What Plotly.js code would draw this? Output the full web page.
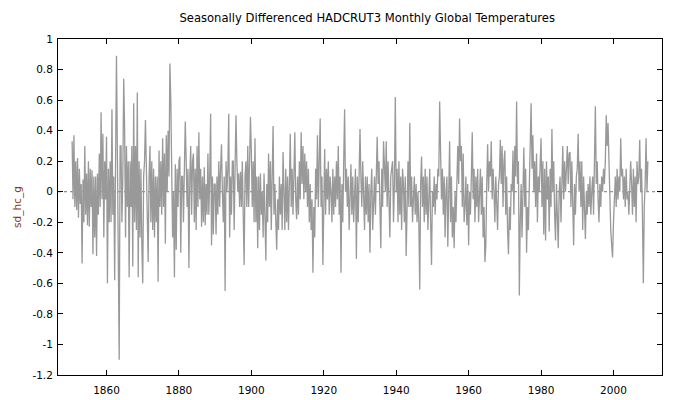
<!DOCTYPE html>
<html>
<head>
<meta charset="utf-8">
<script src="https://cdn.plot.ly/plotly-3.0.1.min.js"></script>
<style>html,body{margin:0;padding:0;background:#fff;}#chart{width:680px;height:400px;}</style>
</head>
<body>
<div id="chart"></div>
<script>
// Series: sd_hc_g, quarterly readings of the monthly series, starting 1850.5
const startYear = 1850.5;
const stepYears = 0.25;
const sd_hc_g = [
  0.33, -0.05,
  0.37, -0.10, 0.20, -0.12,
  0.22, -0.17, 0.15, -0.08,
  0.05, -0.47, 0.08, -0.20,
  0.30, -0.15, 0.12, -0.22,
  0.20, -0.23, 0.15, -0.10,
  0.14, -0.41, 0.10, -0.30,
  0.10, -0.42, 0.12, -0.15,
  0.25, -0.10, 0.52, -0.05,
  0.38, -0.30, 0.20, -0.05,
  0.36, -0.60, 0.15, -0.20,
  0.20, -0.20, 0.54, -0.15,
  0.10, -0.58, 0.20, 0.89,
  0.25, -0.30, -1.10, 0.30,
  0.30, -0.20, 0.10, 0.74,
  0.41, -0.30, 0.30, -0.10,
  0.20, -0.56, 0.20, -0.10,
  0.30, -0.49, 0.58, -0.20,
  0.30, -0.25, 0.65, -0.56,
  0.20, -0.30, 0.15, -0.35,
  -0.60, 0.10, 0.20, 0.47,
  0.20, -0.15, -0.46, 0.10,
  0.30, -0.20, 0.20, -0.25,
  0.15, -0.30, 0.10, -0.20,
  0.10, -0.59, 0.27, -0.10,
  0.20, -0.15, 0.35, -0.10,
  0.25, -0.34, 0.37, 0.00,
  0.40, 0.10, 0.84, 0.60,
  0.20, -0.30, 0.00, -0.56,
  0.18, -0.38, 0.15, -0.10,
  0.20, 0.23, -0.40, 0.10,
  0.10, -0.20, 0.15, 0.46,
  0.20, -0.10, 0.15, -0.50,
  0.10, 0.30, -0.15, 0.20,
  0.25, -0.20, 0.15, -0.25,
  0.30, -0.10, 0.39, -0.05,
  0.15, -0.23, 0.10, -0.20,
  0.16, -0.22, 0.05, -0.15,
  0.25, -0.15, 0.10, 0.51,
  -0.35, 0.10, -0.28, 0.05,
  0.05, -0.28, 0.10, -0.15,
  0.20, -0.10, 0.15, 0.31,
  0.00, -0.20, 0.10, -0.65,
  0.20, 0.00, 0.15, 0.51,
  -0.30, 0.10, -0.15, 0.20,
  0.20, -0.25, 0.15, 0.50,
  0.20, 0.00, 0.12, -0.10,
  0.13, -0.10, 0.20, -0.20,
  -0.48, 0.10, 0.20, -0.10,
  0.30, -0.10, 0.36, 0.49,
  0.25, -0.10, 0.20, -0.20,
  0.35, -0.20, 0.10, -0.37,
  0.10, -0.25, 0.12, -0.15,
  0.00, -0.30, 0.12, -0.20,
  -0.45, 0.05, -0.20, 0.25,
  -0.10, 0.20, -0.25, 0.10,
  0.43, -0.15, 0.05, -0.20,
  -0.38, -0.05, -0.25, 0.10,
  -0.15, 0.05, -0.25, 0.26,
  0.00, -0.25, 0.15, -0.20,
  0.10, -0.25, 0.05, 0.38,
  -0.10, 0.15, -0.15, 0.20,
  0.39, -0.05, -0.18, 0.10,
  -0.15, 0.20, -0.05, 0.39,
  0.05, 0.30, -0.05, 0.25,
  0.00, 0.20, -0.10, 0.15,
  -0.20, 0.05, -0.25, -0.05,
  -0.53, -0.10, -0.30, 0.15,
  -0.05, 0.37, -0.10, 0.20,
  0.48, -0.10, 0.10, -0.48,
  0.10, 0.28, -0.15, 0.15,
  -0.05, 0.20, -0.15, 0.10,
  0.00, -0.20, 0.15, -0.15,
  0.10, -0.10, 0.20, -0.05,
  0.30, -0.15, 0.10, -0.53,
  0.05, -0.20, 0.20, 0.54,
  0.00, 0.15, -0.10, 0.10,
  -0.25, 0.05, 0.18, -0.15,
  0.10, -0.20, -0.05, 0.15,
  -0.44, 0.10, -0.20, 0.05,
  0.41, 0.10, -0.10, 0.20,
  -0.05, -0.25, 0.10, -0.15,
  0.10, -0.20, 0.05, -0.40,
  0.00, 0.15, -0.25, 0.05,
  0.10, -0.15, 0.20, 0.36,
  0.05, 0.20, -0.10, -0.37,
  0.15, -0.10, 0.33, 0.05,
  0.00, 0.33, -0.10, 0.20,
  -0.05, -0.30, 0.10, 0.15,
  0.20, -0.20, 0.05, 0.62,
  0.00, 0.15, -0.20, 0.20,
  -0.15, 0.10, -0.25, 0.15,
  0.05, -0.20, 0.10, -0.42,
  0.00, 0.20, -0.10, 0.45,
  -0.10, 0.10, -0.20, 0.05,
  0.10, -0.15, 0.05, -0.20,
  0.00, -0.20, -0.64, 0.05,
  0.23, -0.10, 0.10, -0.20,
  0.15, -0.15, 0.10, -0.25,
  0.05, 0.15, -0.20, -0.48,
  0.00, -0.10, 0.10, -0.15,
  0.05, -0.05, 0.15, 0.10,
  0.59, 0.10, -0.05, 0.15,
  -0.15, 0.10, -0.30, 0.00,
  0.10, -0.36, 0.05, 0.33,
  -0.20, 0.10, -0.30, -0.10,
  -0.37, 0.00, -0.20, 0.10,
  0.30, 0.05, 0.48, 0.20,
  0.30, -0.10, 0.25, -0.20,
  -0.10, 0.10, -0.22, 0.05,
  -0.35, 0.00, -0.15, 0.10,
  0.39, -0.05, 0.15, -0.20,
  0.10, -0.10, 0.15, -0.20,
  0.00, 0.15, -0.15, 0.10,
  -0.30, -0.10, -0.46, -0.35,
  0.05, 0.31, 0.00, 0.20,
  0.10, 0.33, -0.05, 0.15,
  0.00, -0.20, 0.10, -0.15,
  -0.25, 0.05, 0.10, 0.34,
  0.05, 0.30, -0.10, 0.20,
  0.27, -0.15, 0.10, -0.25,
  -0.41, -0.10, -0.25, 0.05,
  0.00, 0.27, -0.15, 0.30,
  0.10, 0.59, 0.05, 0.20,
  -0.68, -0.20, 0.05, -0.30,
  0.10, 0.29, -0.10, 0.15,
  -0.40, -0.10, -0.25, 0.10,
  0.20, 0.58, 0.15, 0.37,
  0.00, 0.20, -0.10, 0.25,
  -0.20, 0.10, 0.00, 0.25,
  0.35, -0.10, 0.20, -0.28,
  0.15, -0.32, 0.20, -0.05,
  0.10, -0.26, 0.15, -0.10,
  0.41, 0.00, 0.20, -0.15,
  -0.32, 0.05, -0.20, -0.37,
  0.00, 0.10, -0.20, 0.15,
  0.30, -0.05, 0.20, 0.00,
  0.15, 0.30, 0.05, 0.25,
  0.26, -0.10, 0.20, -0.25,
  -0.35, 0.05, -0.15, 0.10,
  0.15, 0.38, 0.00, 0.20,
  -0.10, 0.20, -0.25, 0.10,
  -0.20, -0.31, 0.00, -0.15,
  0.05, -0.10, 0.10, -0.15,
  0.00, 0.10, -0.15, 0.15,
  0.56, 0.05, 0.20, -0.05,
  -0.20, 0.05, -0.10, 0.10,
  0.00, 0.15, 0.05, 0.20,
  0.50, 0.30, 0.45, 0.20,
  -0.10, -0.25, -0.35, -0.43,
  -0.20, 0.00, 0.10, -0.10,
  0.15, -0.05, 0.10, 0.00,
  0.35, 0.10, 0.15, -0.05,
  0.10, -0.10, 0.15, -0.05,
  0.00, -0.15, 0.10, 0.20,
  0.05, -0.15, 0.15, -0.10,
  0.10, -0.20, 0.20, 0.05,
  0.10, 0.34, 0.00, 0.15,
  -0.15, -0.60, -0.10, 0.05,
  0.35, 0.00, 0.20
];
const years = sd_hc_g.map((_, i) => startYear + i * stepYears);

const xTickVals = [1860, 1880, 1900, 1920, 1940, 1960, 1980, 2000];
const xTickText = ['1860', '1880', '1900', '1920', '1940', '1960', '1980', '2000'];
const yTickVals = [1, 0.8, 0.6, 0.4, 0.2, 0, -0.2, -0.4, -0.6, -0.8, -1, -1.2];
const yTickText = ['1', '0.8', '0.6', '0.4', '0.2', '0', '-0.2', '-0.4', '-0.6', '-0.8', '-1', '-1.2'];

const font = 'DejaVu Sans, Verdana, sans-serif';

const trace = {
  x: years, y: sd_hc_g, type: 'scatter', mode: 'lines',
  line: {color: '#999999', width: 1.3},
  hoverinfo: 'skip'
};

const layout = {
  width: 680, height: 400,
  margin: {l: 58, r: 18, t: 39, b: 25, pad: 0},
  paper_bgcolor: '#ffffff', plot_bgcolor: '#ffffff',
  showlegend: false,
  font: {family: font, size: 10.5, color: '#000000'},
  title: {
    text: 'Seasonally Differenced HADCRUT3 Monthly Global Temperatures',
    font: {family: font, size: 11.6, color: '#000000'},
    xref: 'container', x: 0.54, xanchor: 'center',
    yref: 'container', y: 1 - 18 / 400, yanchor: 'middle'
  },
  xaxis: {
    range: [1846.6, 2013.4], showgrid: false, zeroline: false,
    showline: true, linecolor: '#000000', linewidth: 1, mirror: 'allticks',
    ticks: 'inside', ticklen: 5, tickcolor: '#000000', tickwidth: 1,
    tickmode: 'array', tickvals: xTickVals, ticktext: xTickText,
    ticklabelstandoff: 5,
    tickfont: {family: font, size: 10.5, color: '#000000'}
  },
  yaxis: {
    range: [-1.2, 1], showgrid: false, zeroline: false,
    showline: true, linecolor: '#000000', linewidth: 1, mirror: 'allticks',
    ticks: 'inside', ticklen: 5, tickcolor: '#000000', tickwidth: 1,
    tickmode: 'array', tickvals: yTickVals, ticktext: yTickText,
    ticklabelstandoff: 2,
    tickfont: {family: font, size: 10.5, color: '#000000'},
    title: {text: 'sd_hc_g', font: {family: font, size: 10.5, color: '#8b3a0e'}, standoff: 8}
  },
  shapes: [{
    type: 'line', xref: 'paper', x0: 0, x1: 1, yref: 'y', y0: 0, y1: 0,
    line: {color: '#777777', width: 1, dash: 'dot'}, layer: 'below'
  }]
};

Plotly.newPlot('chart', [trace], layout, {staticPlot: true, displayModeBar: false});
</script>
</body>
</html>
